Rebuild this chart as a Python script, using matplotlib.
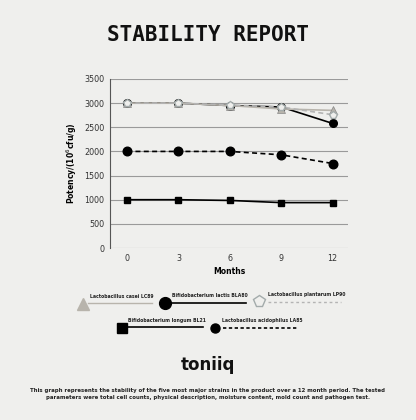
import matplotlib.pyplot as plt

# данные
months = [0, 3, 6, 9, 12]
casei_lc89 = [3000, 3000, 2950, 2880, 2850]
lactis_bla80 = [3000, 3000, 2950, 2920, 2580]
plantarum_lp90 = [3000, 3000, 2960, 2920, 2760]
longum_bl21 = [1000, 1000, 985, 940, 940]
acidophilus_la85 = [2000, 2000, 2000, 1930, 1750]
y_ticks = [0, 500, 1000, 1500, 2000, 2500, 3000, 3500]

bg = '#efefed'
grey_tri = '#b8b4ac'
grey_pent = '#a3abab'
grey_dash = '#b4b4b4'

fig = plt.figure(figsize=(4.16, 4.20), dpi=100, facecolor=bg)

fig.text(0.5, 1 - 35 / 420, 'STABILITY REPORT', ha='center', va='center',
         fontsize=15, fontweight='bold', family='DejaVu Sans Mono', color='#111111')

ax = fig.add_axes([110 / 416, 1 - 248 / 420, 238 / 416, 169 / 420])
ax.set_facecolor(bg)
ax.set_xlim(-1, 12.9)
ax.set_ylim(0, 3500)
ax.set_yticks(y_ticks)
ax.set_xticks(months)
ax.grid(axis='y', color='#9a9a9a', linewidth=0.8)
ax.set_axisbelow(True)
for s in ['top', 'right', 'bottom']:
    ax.spines[s].set_visible(False)
ax.spines['left'].set_color('#555555')
ax.spines['left'].set_linewidth(0.8)
ax.tick_params(length=0, labelsize=5.8, colors='#333333', pad=4)
ax.set_xlabel('Months', fontsize=5.5, fontweight='bold', labelpad=3)
ax.set_ylabel('Potency/(10$^6$cfu/g)', fontsize=5.5, fontweight='bold', labelpad=4)

# линии
ax.plot(months, longum_bl21, color='black', lw=1.2, marker='s', ms=4.2, zorder=3)
ax.plot(months, acidophilus_la85, color='black', lw=1.2, ls=(0, (3, 2)),
        marker='o', ms=6.2, zorder=3)
ax.plot(months, lactis_bla80, color='black', lw=1.2, marker='o', ms=5.5, zorder=3)
ax.plot(months, casei_lc89, color=grey_tri, lw=1.2, marker='^', ms=5.5,
        markeredgecolor='#888888', markeredgewidth=0.5, zorder=4)
ax.plot(months, plantarum_lp90, color=grey_dash, lw=1.2, ls=(0, (3, 2)),
        marker='p', ms=6, markerfacecolor=bg, markeredgecolor=grey_pent,
        markeredgewidth=1, zorder=4)

# легенда вручную (подпись над линией)
lg = fig.add_axes([0, 0, 1, 1], facecolor='none')
lg.set_xlim(0, 416)
lg.set_ylim(420, 0)
lg.axis('off')

entries = [
    ('Lactobacillus casei LC89', '^', 8, grey_tri, grey_tri, grey_tri, '-', 83, 304, 88, 152, 299, 303),
    ('Bifidobacterium lactis BLA80', 'o', 8.5, 'black', 'black', 'black', '-', 165, 303, 170, 246, 298, 303),
    ('Lactobacillus plantarum LP90', 'p', 8.5, bg, grey_pent, grey_dash, (0, (2, 2)), 259, 301, 268, 341, 297, 302),
    ('Bifidobacterium longum BL21', 's', 6.5, 'black', 'black', 'black', '-', 122, 328, 127, 203, 323, 327),
    ('Lactobacillus acidophilus LA85', 'o', 6.5, 'black', 'black', 'black', (0, (2, 1.5)), 215, 328, 223, 298, 323, 328),
]
for name, mk, ms, fc, ec, lc, ls, mx, my, x0, x1, ty, ly in entries:
    lg.plot([x0, x1], [ly, ly], color=lc, lw=1.2 if lc == 'black' else 1.0, ls=ls)
    lg.plot([mx], [my], marker=mk, ms=ms, markerfacecolor=fc, markeredgecolor=ec,
            markeredgewidth=1, ls='none')
    lg.text((x0 + x1) / 2 + 2, ty, name, ha='center', va='bottom', fontsize=3.35,
            fontweight='bold', color='#222222')

fig.text(0.5, 1 - 365 / 420, 'toniiq', ha='center', va='center', fontsize=12,
         fontweight='bold', color='#111111')
fig.text(0.5, 1 - 394 / 420,
         'This graph represents the stability of the five most major strains in the product over a 12 month period. The tested\n'
         'parameters were total cell counts, physical description, moisture content, mold count and pathogen test.',
         ha='center', va='center', fontsize=3.85, fontweight='bold', color='#222222',
         linespacing=1.45)

fig.savefig('out.png', dpi=100, facecolor=bg)
